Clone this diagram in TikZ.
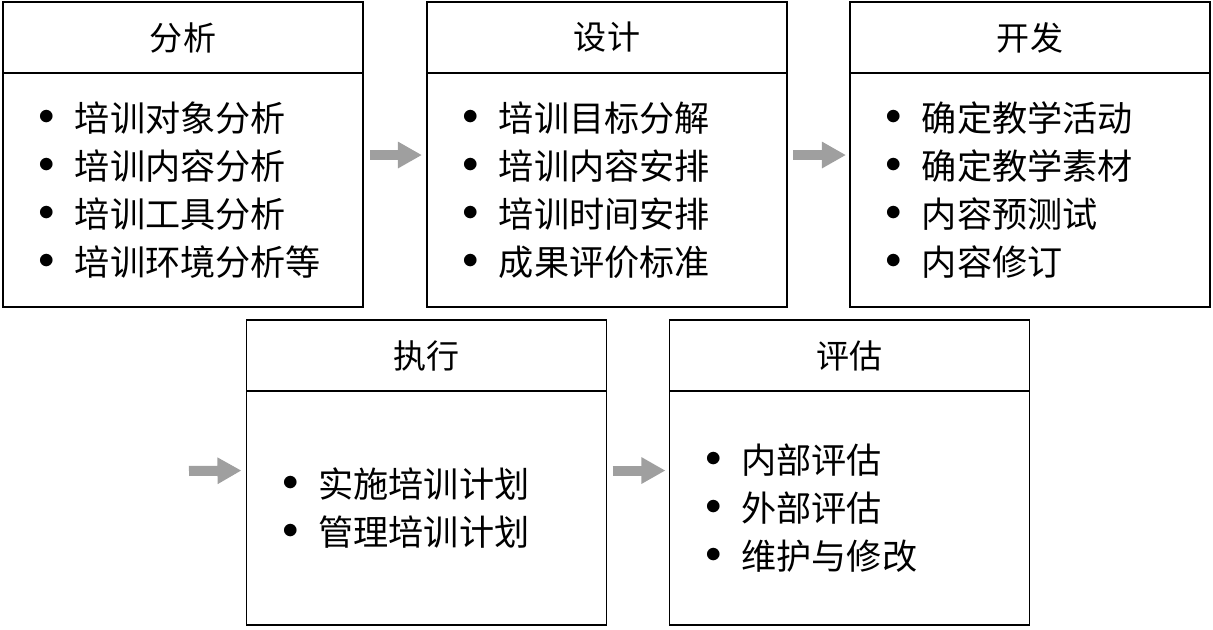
\documentclass[tikz,border=0pt]{standalone}
\usepackage{fontspec}
\usepackage{tikz}
\usetikzlibrary{positioning,arrows.meta}
\newfontfamily\cjk{Noto Sans CJK SC}
\newcommand{\itm}{\makebox[1.2cm][l]{\smash{\scalebox{1.6}{\rmfamily\textbullet}}}}

\begin{document}
\begin{tikzpicture}[x=0.025cm, y=-0.025cm,
    head/.style={draw, rectangle, line width=0.9pt, minimum width=9cm, minimum height=1.775cm, outer sep=0pt, font=\cjk\fontsize{23.5}{28}\selectfont},
    body/.style={draw, rectangle, line width=0.9pt, text width=7.8cm, inner xsep=0.6cm, minimum height=5.85cm, align=left, outer sep=0pt, font=\cjk\fontsize{25}{34}\selectfont},
    flow/.style={draw=gray!75, line width=0.25cm, -{Triangle[length=0.6cm, width=0.625cm]}}]
    \useasboundingbox (0,0) rectangle (1213,630);

    % top row
    \node [head] (ana) at (183,37.5) {分析};
    \node [body, below=0pt of ana] (anab) {\itm 培训对象分析\\ \itm 培训内容分析\\ \itm 培训工具分析\\ \itm 培训环境分析等};
    \node [head] (des) at (607,37.5) {设计};
    \node [body, below=0pt of des] (desb) {\itm 培训目标分解\\ \itm 培训内容安排\\ \itm 培训时间安排\\ \itm 成果评价标准};
    \node [head] (dev) at (1030,37.5) {开发};
    \node [body, below=0pt of dev] (devb) {\itm 确定教学活动\\ \itm 确定教学素材\\ \itm 内容预测试\\ \itm 内容修订};

    % bottom row
    \node [head] (exe) at (426.5,355.5) {执行};
    \node [body, below=0pt of exe] (exeb) {\itm 实施培训计划\\ \itm 管理培训计划};
    \node [head] (eva) at (849.5,355.5) {评估};
    \node [body, below=0pt of eva] (evab) {\itm 内部评估\\ \itm 外部评估\\ \itm 维护与修改};

    \coordinate (entry) at (189,471);
    \draw [flow] ([shift={(7,-35)}]anab.east) -- ([shift={(-5,-35)}]desb.west);
    \draw [flow] ([shift={(6,-35)}]desb.east) -- ([shift={(-4,-35)}]devb.west);
    \draw [flow] (entry) -- ([shift={(-5,-37.5)}]exeb.west);
    \draw [flow] ([shift={(6,-37.5)}]exeb.east) -- ([shift={(-4,-37.5)}]evab.west);
\end{tikzpicture}
\end{document}
